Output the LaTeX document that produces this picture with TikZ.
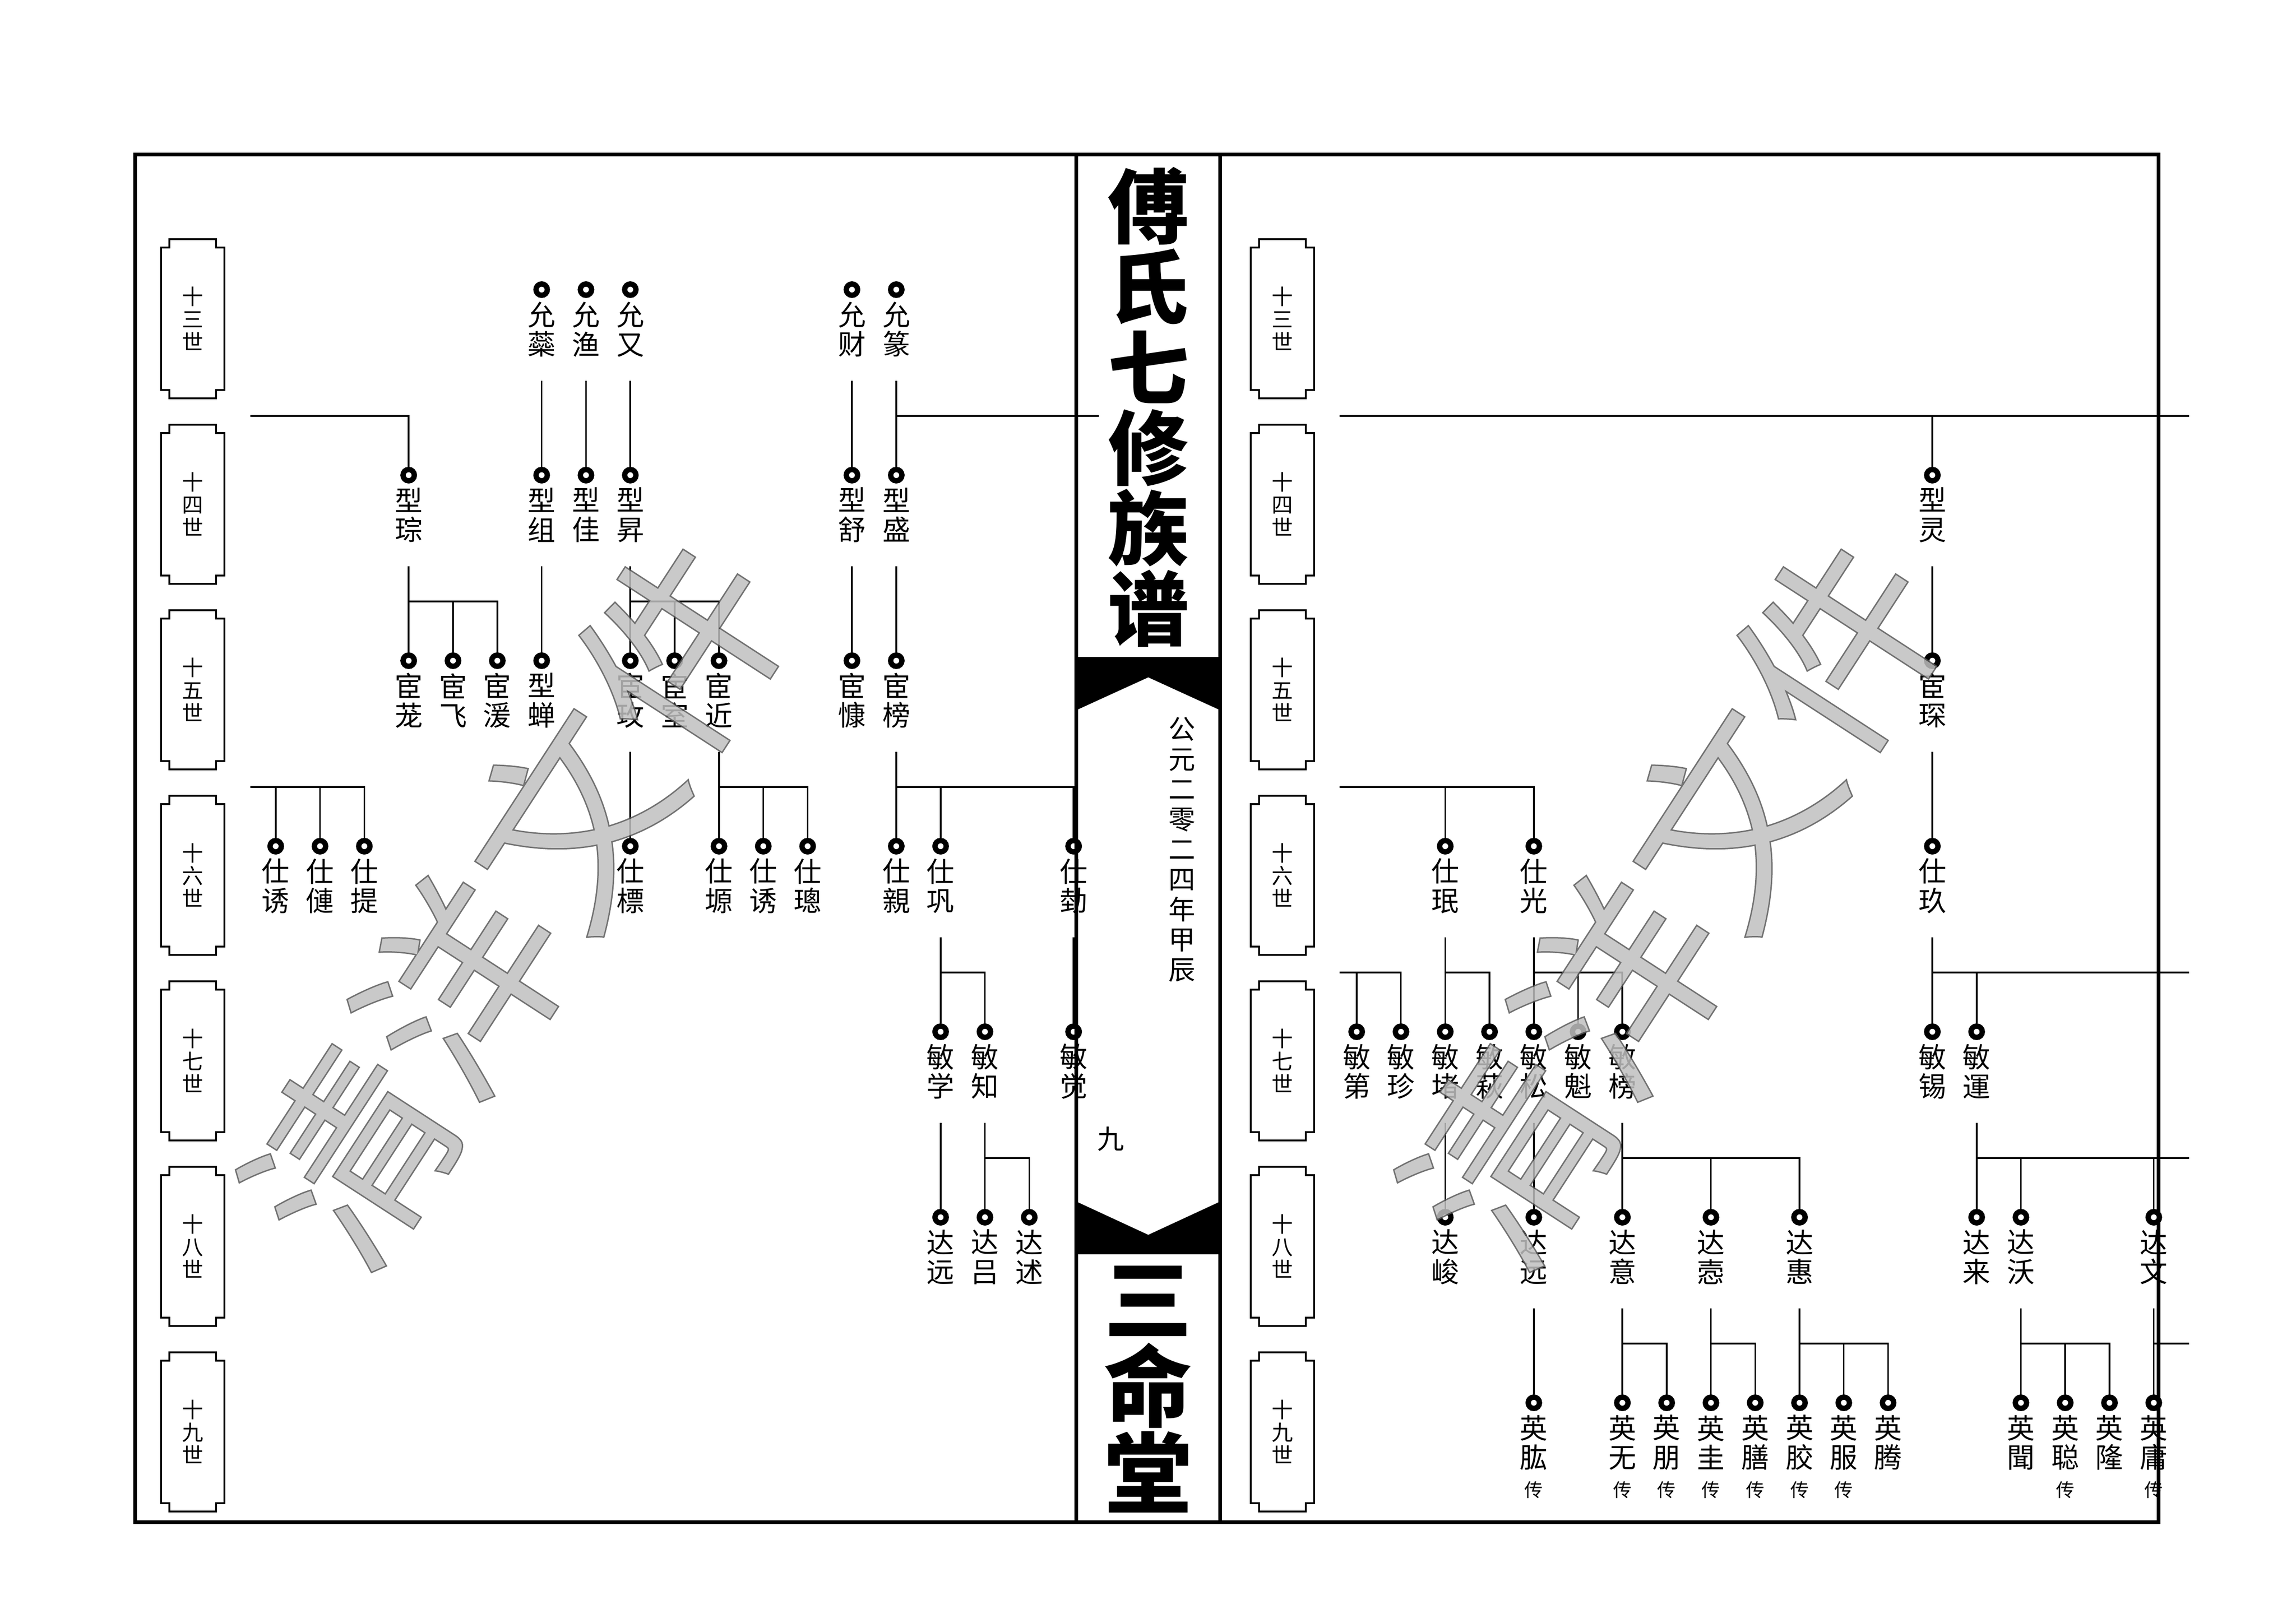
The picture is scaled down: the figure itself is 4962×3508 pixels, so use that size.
\documentclass[tikz,border=0pt]{standalone}
\usepackage{fontspec}
\newfontfamily\cjk{Noto Sans CJK SC}
\usetikzlibrary{calc}
\setlength{\lineskiplimit}{-100pt}

% column positions on the two pages
\newcommand{\xl}[1]{883.2+95.8*(#1)}
\newcommand{\xr}[1]{2932+95.7*(#1)}

% one member: ring, name below it, start and bar points of his own branch
\newcommand{\member}[4]{%
  \node[dot] (#1) at ({#2},{626+401*(#3-13)}) {};
  \node[mname] (#1t) at ($(#1)+(0,86)$) {#4};
  \coordinate (#1s) at ($(#1)+(0,197)$);
  \coordinate (#1b) at ($(#1)+(0,273)$);
}
% sons of one member
\newcommand{\kids}[2]{%
  \draw[link] (#1s) -- (#1b);
  \foreach \kd in {#2} {\draw[link] (#1b) -| (\kd);}
}
% mark under a name
\newcommand{\heir}[1]{\node[heir] (#1c) at ($(#1)+(0,188)$) {传};}
% generation label with cut corners
\newcommand{\genbox}[4]{%
  \node[gen] (#1) at ({#2},{689+401*(#3-13)}) {#4};
  \draw[genline] ($(#1)+(-50.5,-172)$) -- ++(101,0) -- ++(0,18) -- ++(18,0)
    -- ++(0,308) -- ++(-18,0) -- ++(0,18) -- ++(-101,0) -- ++(0,-18)
    -- ++(-18,0) -- ++(0,-308) -- ++(18,0) -- cycle;
}
% filled and outlined letters for the watermark
\newcommand{\hollow}[1]{\special{pdf:literal direct 0.35 G 0.6 w 2 Tr}#1\special{pdf:literal direct 0 Tr}}

\begin{document}
\begin{tikzpicture}[x=0.2pt, y=-0.2pt,
  link/.style={line width=0.7pt},
  frame/.style={line width=1.5pt},
  genline/.style={line width=0.8pt},
  dot/.style={circle, draw, fill=white, line width=2.3pt, minimum size=4.9pt, inner sep=0pt},
  mname/.style={font=\cjk\fontsize{12}{12.7}\selectfont, align=center, inner sep=0pt},
  heir/.style={font=\cjk\fontsize{8}{8}\selectfont, inner sep=0pt},
  gen/.style={font=\cjk\fontsize{9.2}{9.8}\selectfont, align=center, inner sep=0pt},
  title/.style={font=\cjk\bfseries\fontsize{35}{34.8}\selectfont, align=center, inner sep=0pt},
  hall/.style={font=\cjk\bfseries\fontsize{38}{37.6}\selectfont, align=center, inner sep=0pt},
  date/.style={font=\cjk\fontsize{11.6}{13}\selectfont, align=center, inner sep=0pt},
  page/.style={font=\cjk\fontsize{11.6}{11.6}\selectfont, inner sep=0pt},
  wmark/.style={font=\cjk\fontsize{87}{87}\selectfont, rotate=57, inner sep=0pt, text=gray!50}]

  \useasboundingbox (0,0) rectangle (4962,3508);
  \clip (0,0) rectangle (4731,3508);

  % Ends of branches that run off the pages
  \coordinate (inL14) at (541,899);
  \coordinate (inL16) at (541,1701);
  \coordinate (inR13) at (2895,899);
  \coordinate (inR16) at (2895,1701);
  \coordinate (inR17) at (2895,2102);
  \coordinate (outC) at (2375,0);
  \coordinate (outR) at (4731,0);

  % Generation labels
  \foreach \rw/\nm in {13/三,14/四,15/五,16/六,17/七,18/八,19/九} {
    \genbox{gl\rw}{416.5}{\rw}{十\\\nm\\世}
    \genbox{gr\rw}{2771}{\rw}{十\\\nm\\世}
  }

  % Left page
  \member{yrui}{\xl{3}}{13}{允\\蘂}
  \member{yyu}{\xl{4}}{13}{允\\渔}
  \member{yyou}{\xl{5}}{13}{允\\又}
  \member{ycai}{\xl{10}}{13}{允\\财}
  \member{yzhuan}{\xl{11}}{13}{允\\篆}
  \member{xcong}{\xl{0}}{14}{型\\琮}
  \member{xzu}{\xl{3}}{14}{型\\组}
  \member{xjia}{\xl{4}}{14}{型\\佳}
  \member{xsheng}{\xl{5}}{14}{型\\昇}
  \member{xshu}{\xl{10}}{14}{型\\舒}
  \member{xcheng}{\xl{11}}{14}{型\\盛}
  \member{hlong}{\xl{0}}{15}{宦\\茏}
  \member{hfei}{\xl{1}}{15}{宦\\飞}
  \member{hyuan}{\xl{2}}{15}{宦\\湲}
  \member{xchan}{\xl{3}}{15}{型\\蝉}
  \member{hmei}{\xl{5}}{15}{宦\\玫}
  \member{hshi}{\xl{6}}{15}{宦\\室}
  \member{hjin}{\xl{7}}{15}{宦\\近}
  \member{hkang}{\xl{10}}{15}{宦\\慷}
  \member{hbang}{\xl{11}}{15}{宦\\榜}
  \member{syou}{\xl{-3}}{16}{仕\\诱}
  \member{slian}{\xl{-2}}{16}{仕\\僆}
  \member{sti}{\xl{-1}}{16}{仕\\提}
  \member{sbiao}{\xl{5}}{16}{仕\\標}
  \member{syuan}{\xl{7}}{16}{仕\\塬}
  \member{syoub}{\xl{8}}{16}{仕\\诱}
  \member{scong}{\xl{9}}{16}{仕\\璁}
  \member{sqin}{\xl{11}}{16}{仕\\親}
  \member{sgong}{\xl{12}}{16}{仕\\巩}
  \member{slu}{\xl{15}}{16}{仕\\勎}
  \member{mxue}{\xl{12}}{17}{敏\\学}
  \member{mzhi}{\xl{13}}{17}{敏\\知}
  \member{mjue}{\xl{15}}{17}{敏\\觉}
  \member{dyuan}{\xl{12}}{18}{达\\远}
  \member{dlv}{\xl{13}}{18}{达\\吕}
  \member{dshu}{\xl{14}}{18}{达\\述}

  \draw[link] (inL14) -| (xcong);
  \kids{yrui}{xzu}
  \kids{yyu}{xjia}
  \kids{yyou}{xsheng}
  \kids{ycai}{xshu}
  \kids{yzhuan}{xcheng}
  \draw[link] (yzhuanb) -- (yzhuanb -| outC);
  \kids{xcong}{hlong,hfei,hyuan}
  \kids{xzu}{xchan}
  \kids{xsheng}{hmei,hshi,hjin}
  \kids{xshu}{hkang}
  \kids{xcheng}{hbang}
  \foreach \kd in {syou,slian,sti} {\draw[link] (inL16) -| (\kd);}
  \kids{hmei}{sbiao}
  \kids{hjin}{syuan,syoub,scong}
  \kids{hbang}{sqin,sgong,slu}
  \kids{sgong}{mxue,mzhi}
  \kids{slu}{mjue}
  \kids{mxue}{dyuan}
  \kids{mzhi}{dlv,dshu}

  % Right page
  \member{xling}{\xr{13}}{14}{型\\灵}
  \member{hchen}{\xr{13}}{15}{宦\\琛}
  \member{smin}{\xr{2}}{16}{仕\\珉}
  \member{sguang}{\xr{4}}{16}{仕\\光}
  \member{sjiu}{\xr{13}}{16}{仕\\玖}
  \member{mdi}{\xr{0}}{17}{敏\\第}
  \member{mzhen}{\xr{1}}{17}{敏\\珍}
  \member{mdu}{\xr{2}}{17}{敏\\堵}
  \member{mqiu}{\xr{3}}{17}{敏\\萩}
  \member{msong}{\xr{4}}{17}{敏\\松}
  \member{mkui}{\xr{5}}{17}{敏\\魁}
  \member{mbang}{\xr{6}}{17}{敏\\榜}
  \member{mxi}{\xr{13}}{17}{敏\\锡}
  \member{myun}{\xr{14}}{17}{敏\\運}
  \member{djun}{\xr{2}}{18}{达\\峻}
  \member{dyuanr}{\xr{4}}{18}{达\\远}
  \member{dyi}{\xr{6}}{18}{达\\意}
  \member{dque}{\xr{8}}{18}{达\\悫}
  \member{dhui}{\xr{10}}{18}{达\\惠}
  \member{dlai}{\xr{14}}{18}{达\\来}
  \member{dwo}{\xr{15}}{18}{达\\沃}
  \member{dwen}{\xr{18}}{18}{达\\文}
  \member{ygong}{\xr{4}}{19}{英\\肱}
  \member{ywu}{\xr{6}}{19}{英\\无}
  \member{ypeng}{\xr{7}}{19}{英\\朋}
  \member{ygui}{\xr{8}}{19}{英\\圭}
  \member{yshan}{\xr{9}}{19}{英\\膳}
  \member{yjiao}{\xr{10}}{19}{英\\胶}
  \member{yfu}{\xr{11}}{19}{英\\服}
  \member{yteng}{\xr{12}}{19}{英\\腾}
  \member{ywen}{\xr{15}}{19}{英\\聞}
  \member{ycong}{\xr{16}}{19}{英\\聪}
  \member{ylong}{\xr{17}}{19}{英\\隆}
  \member{yyong}{\xr{18}}{19}{英\\庸}
  \foreach \p in {ygong,ywu,ypeng,ygui,yshan,yjiao,yfu,ycong,yyong} {\heir{\p}}

  \draw[link] (inR13) -- (inR13 -| outR);
  \draw[link] (inR13) -| (xling);
  \kids{xling}{hchen}
  \kids{hchen}{sjiu}
  \foreach \kd in {smin,sguang} {\draw[link] (inR16) -| (\kd);}
  \foreach \kd in {mdi,mzhen} {\draw[link] (inR17) -| (\kd);}
  \kids{smin}{mdu,mqiu}
  \kids{sguang}{msong,mkui,mbang}
  \kids{sjiu}{mxi,myun}
  \draw[link] (sjiub) -- (sjiub -| outR);
  \kids{mdu}{djun}
  \kids{msong}{dyuanr}
  \kids{mbang}{dyi,dque,dhui}
  \kids{myun}{dlai,dwo,dwen}
  \draw[link] (myunb) -- (myunb -| outR);
  \kids{dyuanr}{ygong}
  \kids{dyi}{ywu,ypeng}
  \kids{dque}{ygui,yshan}
  \kids{dhui}{yjiao,yfu,yteng}
  \kids{dwo}{ywen,ycong,ylong}
  \kids{dwen}{yyong}
  \draw[link] (dwenb) -- (dwenb -| outR);

  % Middle strip
  \fill (2326,1420) -- (2637,1420) -- (2637,1535) -- (2481.5,1464) -- (2326,1535) -- cycle;
  \fill (2326,2597) -- (2481.5,2669) -- (2637,2597) -- (2637,2711) -- (2326,2711) -- cycle;
  \node[title] (ttl) at (2481.5,880) {傅\\氏\\七\\修\\族\\谱};
  \node[hall] (hall) at (2481.5,3003) {三\\命\\堂};
  \node[date] (yr) at (2554,1836) {公\\元\\二\\零\\二\\四\\年\\甲\\辰};
  \node[page] (pg) at (2400,2462) {九};

  % Page frame
  \draw[frame] (292,334) rectangle (4665,3290);
  \draw[frame] (2326,334) -- (2326,3290);
  \draw[frame] (2637,334) -- (2637,3290);

  % Watermark, one letter at a time along a rising line
  \coordinate (wml) at (1116,1947);
  \coordinate (wmr) at (3619,1947);
  \foreach \w in {wml,wmr} {
    \begin{scope}[transparency group, opacity=0.85]
      \foreach \i/\ch in {-1.5/清,-0.5/洋,0.5/文,1.5/件}
        \node[wmark] (\w-\ch) at ($(\w)+(238*\i,-366.6*\i)$) {\hollow{\ch}};
    \end{scope}
  }
\end{tikzpicture}
\end{document}
